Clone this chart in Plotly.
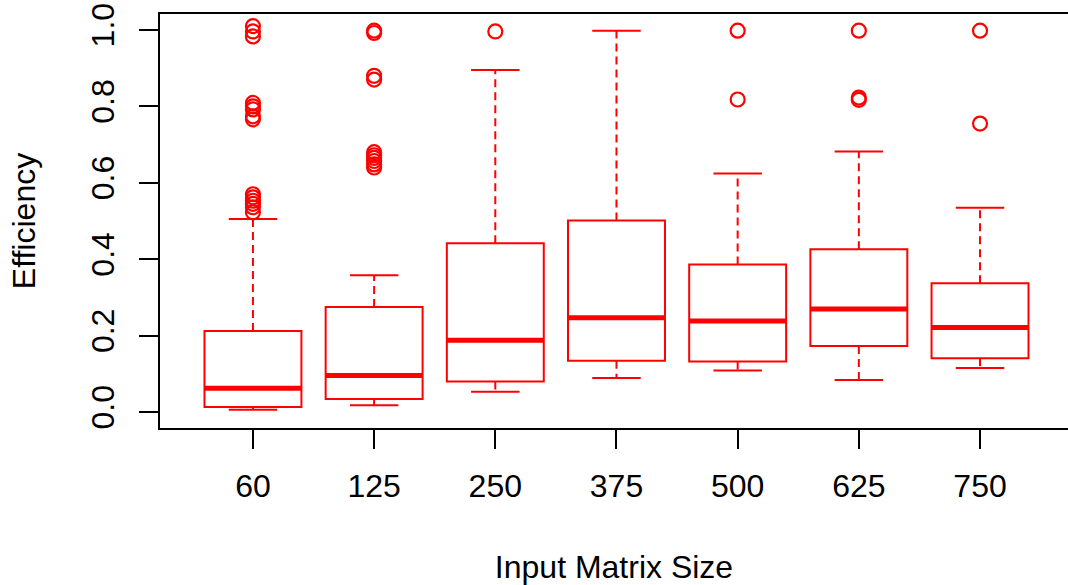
import plotly.graph_objects as go

# ---- data ----
sizes = ["60", "125", "250", "375", "500", "625", "750"]
positions = [1, 2, 3, 4, 5, 6, 7]
q1 = [0.013, 0.034, 0.080, 0.134, 0.132, 0.173, 0.141]
median = [0.062, 0.096, 0.188, 0.247, 0.238, 0.270, 0.221]
q3 = [0.212, 0.275, 0.442, 0.501, 0.386, 0.426, 0.337]
lower_whisker = [0.006, 0.018, 0.053, 0.089, 0.109, 0.084, 0.115]
upper_whisker = [0.505, 0.358, 0.895, 0.998, 0.624, 0.682, 0.535]
outliers = [
    [1.010, 0.996, 0.983, 0.809, 0.800, 0.792, 0.774, 0.766,
     0.570, 0.562, 0.553, 0.545, 0.536, 0.523],
    [0.998, 0.992, 0.880, 0.870, 0.680, 0.672, 0.665, 0.657, 0.648, 0.640],
    [0.996],
    [],
    [0.998, 0.818],
    [0.998, 0.823, 0.817],
    [0.998, 0.755],
]
y_ticks = [0.0, 0.2, 0.4, 0.6, 0.8, 1.0]
y_tick_labels = ["0.0", "0.2", "0.4", "0.6", "0.8", "1.0"]

RED = "#FF0000"
FONT = "Liberation Sans, Arial, sans-serif"
FS = 32
BOX_W = 0.8
CAP_W = 0.4

fig = go.Figure()

# boxes (whiskers drawn separately so they can be dashed)
fig.add_trace(go.Box(
    x=positions, q1=q1, median=median, q3=q3,
    lowerfence=q1, upperfence=q3,
    width=BOX_W, fillcolor="rgba(0,0,0,0)",
    line=dict(color=RED, width=2), whiskerwidth=0,
    boxpoints=False, showlegend=False, hoverinfo="skip",
))

# dashed whiskers
wx, wy = [], []
for p, a, b, lo, hi in zip(positions, q1, q3, lower_whisker, upper_whisker):
    wx += [p, p, None, p, p, None]
    wy += [b, hi, None, a, lo, None]
fig.add_trace(go.Scatter(x=wx, y=wy, mode="lines",
                         line=dict(color=RED, width=2, dash="8px,5px"),
                         showlegend=False, hoverinfo="skip"))

# staples
cx, cy = [], []
for p, lo, hi in zip(positions, lower_whisker, upper_whisker):
    cx += [p - CAP_W / 2, p + CAP_W / 2, None, p - CAP_W / 2, p + CAP_W / 2, None]
    cy += [hi, hi, None, lo, lo, None]
fig.add_trace(go.Scatter(x=cx, y=cy, mode="lines",
                         line=dict(color=RED, width=2),
                         showlegend=False, hoverinfo="skip"))

# thick medians
mx, my = [], []
for p, m in zip(positions, median):
    mx += [p - BOX_W / 2, p + BOX_W / 2, None]
    my += [m, m, None]
fig.add_trace(go.Scatter(x=mx, y=my, mode="lines",
                         line=dict(color=RED, width=5),
                         showlegend=False, hoverinfo="skip"))

# outliers
ox, oy = [], []
for p, vals in zip(positions, outliers):
    for v in vals:
        ox.append(p)
        oy.append(v)
fig.add_trace(go.Scatter(x=ox, y=oy, mode="markers",
                         marker=dict(symbol="circle-open", size=14, color=RED,
                                     line=dict(color=RED, width=2.2)),
                         showlegend=False, hoverinfo="skip"))

fig.update_layout(
    width=1068, height=585,
    margin=dict(l=160, r=0, t=14, b=155),
    paper_bgcolor="white", plot_bgcolor="white",
    font=dict(family=FONT, size=FS, color="black"),
    showlegend=False,
    xaxis=dict(
        range=[0.233, 7.726], tickmode="array", tickvals=positions, ticktext=sizes,
        ticks="outside", ticklen=19, tickwidth=2, tickcolor="black",
        ticklabelstandoff=10,
        showline=True, linewidth=2, linecolor="black", mirror=True,
        showgrid=False, zeroline=False,
        tickfont=dict(family=FONT, size=FS, color="black"),
        title=dict(text="Input Matrix Size", standoff=58,
                   font=dict(family=FONT, size=FS, color="black")),
    ),
    yaxis=dict(
        range=[-0.0417, 1.0417], tickmode="array", tickvals=y_ticks, ticktext=y_tick_labels,
        tickangle=-90,
        ticks="outside", ticklen=19, tickwidth=2, tickcolor="black",
        ticklabelstandoff=12,
        showline=True, linewidth=2, linecolor="black", mirror=False,
        showgrid=False, zeroline=False,
        tickfont=dict(family=FONT, size=FS, color="black"),
        title=dict(text="Efficiency", standoff=40,
                   font=dict(family=FONT, size=FS, color="black")),
    ),
)

fig.write_html("out.html")
